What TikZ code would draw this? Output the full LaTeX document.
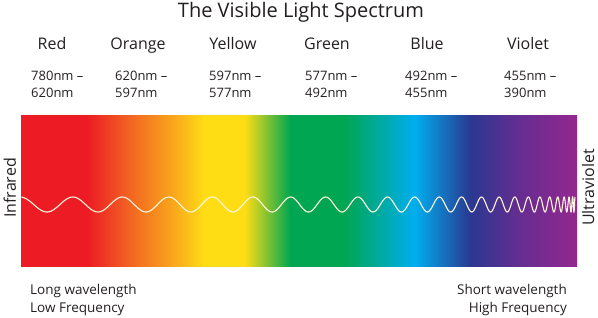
\documentclass[tikz,border=0pt]{standalone}
\usepackage{fontspec}
\setmainfont{Open Sans}
\definecolor{inkgray}{RGB}{35, 31, 32}
\definecolor{specred}{RGB}{237, 28, 36}
\definecolor{specorange}{RGB}{242, 101, 34}
\definecolor{specamber}{RGB}{248, 162, 28}
\definecolor{specyellow}{RGB}{255, 221, 21}
\definecolor{specgreen}{RGB}{0, 166, 81}
\definecolor{speccyan}{RGB}{0, 174, 239}
\definecolor{specblue}{RGB}{42, 56, 145}
\definecolor{specpurple}{RGB}{102, 45, 145}
\definecolor{specviolet}{RGB}{148, 39, 143}
\definecolor{wavecream}{RGB}{255, 246, 220}
\pgfdeclarehorizontalshading{spectrum}{100bp}{
    color(0bp)=(specred); color(25bp)=(specred); color(31bp)=(specred);
    color(34.8bp)=(specorange); color(38.4bp)=(specamber);
    color(41.5bp)=(specyellow); color(45.1bp)=(specyellow);
    color(49.2bp)=(specgreen); color(54.1bp)=(specgreen);
    color(60.4bp)=(speccyan); color(65.4bp)=(specblue);
    color(69.9bp)=(specpurple); color(75bp)=(specviolet); color(100bp)=(specviolet)}

\begin{document}
\begin{tikzpicture}[x=1pt, y=-1pt,
    bandlabel/.style={font=\fontsize{16}{19}\selectfont, text=inkgray, anchor=base},
    nmrange/.style={font=\fontsize{13}{17}\selectfont, text=inkgray,
                  align=left, anchor=north west, inner sep=0pt},
    endnote/.style={font=\fontsize{13.5}{18.5}\selectfont, text=inkgray, inner sep=0pt},
    sidelabel/.style={font=\fontsize{16}{19}\selectfont, text=inkgray, rotate=90, anchor=base},
    wavepath/.style={draw=wavecream, line width=1.1pt}
]
    \useasboundingbox (0,0) rectangle (598,317);

    \node[font=\fontsize{20}{24}\selectfont, text=inkgray, anchor=base] (title) at (301,17)
        {The Visible Light Spectrum};

    \node[bandlabel] (red) at (52,49) {Red};
    \node[bandlabel] (orange) at (138,49) {Orange};
    \node[bandlabel] (yellow) at (233,49) {Yellow};
    \node[bandlabel] (green) at (327,49) {Green};
    \node[bandlabel] (blue) at (427,49) {Blue};
    \node[bandlabel] (violet) at (528,49) {Violet};

    \node[nmrange] (redrange) at (31,70.7) {780nm --\\620nm};
    \node[nmrange] (orangerange) at (115,70.7) {620nm --\\597nm};
    \node[nmrange] (yellowrange) at (209,70.7) {597nm --\\577nm};
    \node[nmrange] (greenrange) at (305,70.7) {577nm --\\492nm};
    \node[nmrange] (bluerange) at (405,70.7) {492nm --\\455nm};
    \node[nmrange] (violetrange) at (504,70.7) {455nm --\\390nm};

    \node[shade, shading=spectrum, minimum width=556pt, minimum height=151pt,
          inner sep=0pt] (bar) at (299,190.5) {};

    % wavelength shrinks towards the violet end
    \draw[wavepath] plot[domain=1.32:12.54, samples=700]
        ({577-\x^2.5}, {204.5-7.5*cos(737.6*(12.54-\x))});

    \node[sidelabel] (infrared) at ([xshift=-5pt, yshift=2.5pt]bar.west) {Infrared};
    \node[sidelabel] (ultraviolet) at ([xshift=17pt, yshift=3pt]bar.east) {Ultraviolet};

    \node[endnote, align=left, anchor=north west] (longwave) at (30,283.7)
        {Long wavelength\\Low Frequency};
    \node[endnote, align=right, anchor=north east] (shortwave) at (567,283.7)
        {Short wavelength\\High Frequency};
\end{tikzpicture}
\end{document}
